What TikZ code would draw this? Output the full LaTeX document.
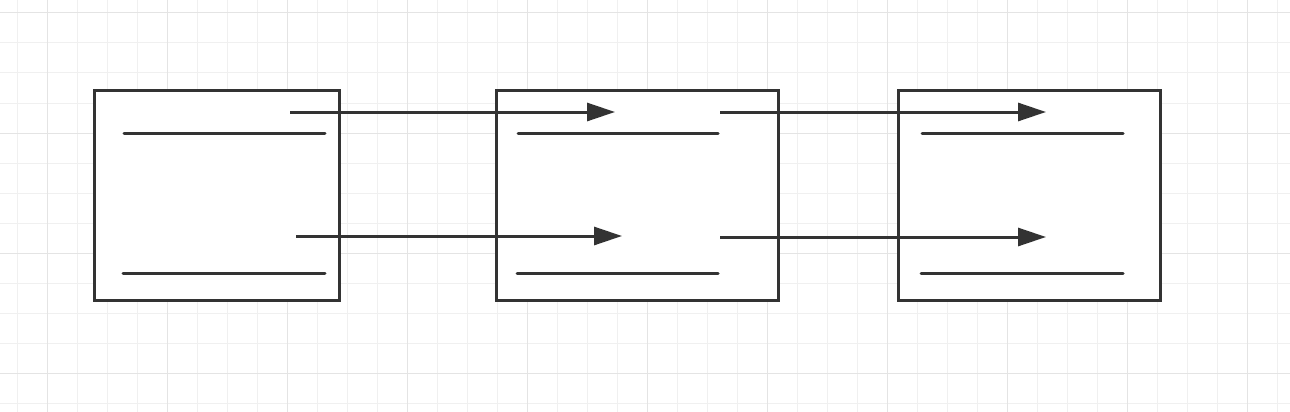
\documentclass[tikz,border=0pt]{standalone}
\usetikzlibrary{arrows.meta}
\definecolor{ink}{HTML}{333333}
\definecolor{gminor}{HTML}{F0F0F0}
\definecolor{gmajor}{HTML}{E4E4E4}
\tikzset{
  box/.style={draw=ink, fill=white, line width=3pt, rectangle, inner sep=0pt, outer sep=0pt, anchor=north west},
  bar/.style={draw=ink, line width=3pt, line cap=round},
  link/.style={draw=ink, line width=3pt, -{Triangle[length=28pt,width=18pt]}},
}
\begin{document}
\begin{tikzpicture}[x=1pt,y=-1pt]
\useasboundingbox (0,0) rectangle (1290,412);
% grid
\foreach \x in {17,47,...,1290} \draw[gminor, line width=1pt] (\x,0) -- (\x,412);
\foreach \y in {13,43,...,412} \draw[gminor, line width=1pt] (0,\y) -- (1290,\y);
\foreach \x in {47,167,...,1290} \draw[gmajor, line width=1pt] (\x,0) -- (\x,412);
\foreach \y in {13,133,...,412} \draw[gmajor, line width=1pt] (0,\y) -- (1290,\y);
% boxes
\node[box, minimum width=245pt, minimum height=210pt] (b1) at (94,90) {};
\node[box, minimum width=282pt, minimum height=210pt] (b2) at (496,90) {};
\node[box, minimum width=262pt, minimum height=210pt] (b3) at (898,90) {};
% inner bars
\draw[bar] (124,133) -- (325,133);
\draw[bar] (123,273) -- (325,273);
\draw[bar] (518,133) -- (718,133);
\draw[bar] (517,273) -- (718,273);
\draw[bar] (922,133) -- (1123,133);
\draw[bar] (921,273) -- (1123,273);
% arrow endpoints
\coordinate (s1) at (290,112);
\coordinate (e1) at (615,112);
\coordinate (s2) at (296,236);
\coordinate (e2) at (622,236);
\coordinate (s3) at (720,112);
\coordinate (e3) at (1046,112);
\coordinate (s4) at (720,237);
\coordinate (e4) at (1046,237);
\draw[link] (s1) -- (e1);
\draw[link] (s2) -- (e2);
\draw[link] (s3) -- (e3);
\draw[link] (s4) -- (e4);
\end{tikzpicture}
\end{document}
